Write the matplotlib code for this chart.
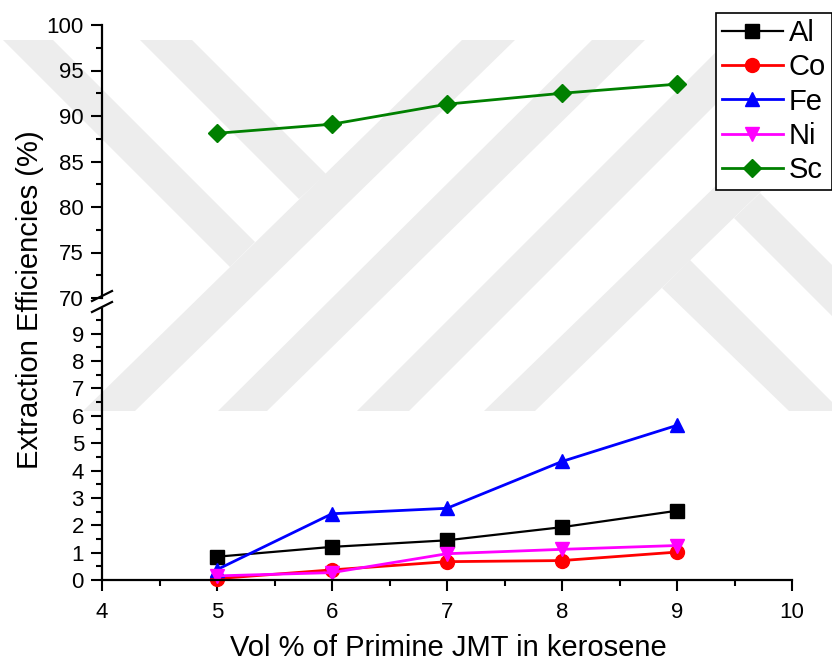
import matplotlib.pyplot as plt
from matplotlib.lines import Line2D
from matplotlib.patches import Polygon

plt.rcParams['font.family'] = ['Liberation Sans', 'DejaVu Sans']

vol = [5, 6, 7, 8, 9]
al = [0.85, 1.21, 1.45, 1.93, 2.53]
co = [0.05, 0.37, 0.67, 0.71, 1.02]
fe = [0.38, 2.42, 2.62, 4.33, 5.65]
ni = [0.15, 0.27, 0.96, 1.12, 1.26]
sc = [88.1, 89.1, 91.3, 92.5, 93.5]

W, H = 832, 663
fig = plt.figure(figsize=(8.32, 6.63), dpi=100)

def fx(p):
    return p / W

def fy(p):
    return 1 - p / H

# faint watermark in the background (pixel coordinates)
bg = fig.add_axes([0, 0, 1, 1], zorder=-5)
bg.set_xlim(0, W)
bg.set_ylim(H, 0)
bg.axis('off')
shapes = [
    [(83, 411), (135, 411), (515, 40), (462, 40)],
    [(218, 411), (267, 411), (645, 40), (592, 40)],
    [(357, 411), (409, 411), (780, 40), (728, 40)],
    [(484, 411), (535, 411), (917, 40), (866, 40)],
    [(3, 40), (53, 40), (255, 242), (230, 267)],
    [(140, 40), (192, 40), (326, 174), (299, 199)],
    [(662, 288), (690, 260), (841, 411), (789, 411)],
    [(734, 218), (760, 193), (960, 393), (934, 418)],
]
for s in shapes:
    bg.add_patch(Polygon(s, closed=True, facecolor="#ededed", edgecolor="none"))

left, right = 102, 792
ax_lo = fig.add_axes([fx(left), fy(580), fx(right - left), (580 - 309) / H])
ax_hi = fig.add_axes([fx(left), fy(298), fx(right - left), (298 - 25) / H])

ms = 10
styles = [
    ("Al", al, "black", "s", 1.6),
    ("Co", co, "red", "o", 2.0),
    ("Fe", fe, "blue", "^", 2.0),
    ("Ni", ni, "magenta", "v", 2.0),
]
handles = []
for name, vals, col, mk, lw in styles:
    ln, = ax_lo.plot(vol, vals, color=col, marker=mk, lw=lw, ms=ms, clip_on=False)
    handles.append(ln)
ln, = ax_hi.plot(vol, sc, color="green", marker="D", lw=2.0, ms=9, clip_on=False)
handles.append(ln)

for ax in (ax_lo, ax_hi):
    ax.set_xlim(4, 10)
    ax.spines['top'].set_visible(False)
    ax.spines['right'].set_visible(False)
    ax.spines['left'].set_linewidth(1.6)
    ax.tick_params(axis='both', which='major', direction='out', length=8, width=1.5,
                   labelsize=16, pad=5)
    ax.tick_params(axis='both', which='minor', direction='out', length=4.5, width=1.5)
    ax.patch.set_alpha(0)

ax_lo.spines['bottom'].set_linewidth(1.6)
ax_lo.set_ylim(0, 9.9)
ax_lo.set_yticks(range(0, 10))
ax_lo.set_yticks([i + 0.5 for i in range(0, 10)], minor=True)
ax_lo.set_xticks(range(4, 11))
ax_lo.set_xticks([4.5, 5.5, 6.5, 7.5, 8.5, 9.5], minor=True)
ax_lo.tick_params(axis='x', which='major', pad=8)

ax_hi.set_ylim(70, 100)
ax_hi.set_yticks(range(70, 101, 5))
ax_hi.set_yticks([72.5, 77.5, 82.5, 87.5, 92.5, 97.5], minor=True)
ax_hi.spines['bottom'].set_visible(False)
ax_hi.set_xticks([])
ax_hi.set_xticks([], minor=True)

# break marks on the y axis
for yp in (296, 307):
    fig.add_artist(Line2D([fx(left - 10), fx(left + 10)], [fy(yp + 5), fy(yp - 5)],
                          color="black", lw=1.6))

fig.text(fx(30), fy(300), "Extraction Efficiencies (%)", rotation=90,
         ha="center", va="center", fontsize=21)
fig.text(fx(448), fy(648), "Vol % of Primine JMT in kerosene", ha="center",
         va="center", fontsize=21)

leg = fig.legend(handles, ["Al", "Co", "Fe", "Ni", "Sc"], loc="upper left",
                 bbox_to_anchor=(fx(716), fy(13)), fontsize=21, frameon=True,
                 fancybox=False, edgecolor="black", borderpad=0.2, labelspacing=0.22,
                 handlelength=2.1, handletextpad=0.2, borderaxespad=0)
leg.get_frame().set_linewidth(1.2)
leg.get_frame().set_alpha(1)

fig.savefig("out.png", dpi=100, facecolor="white")
